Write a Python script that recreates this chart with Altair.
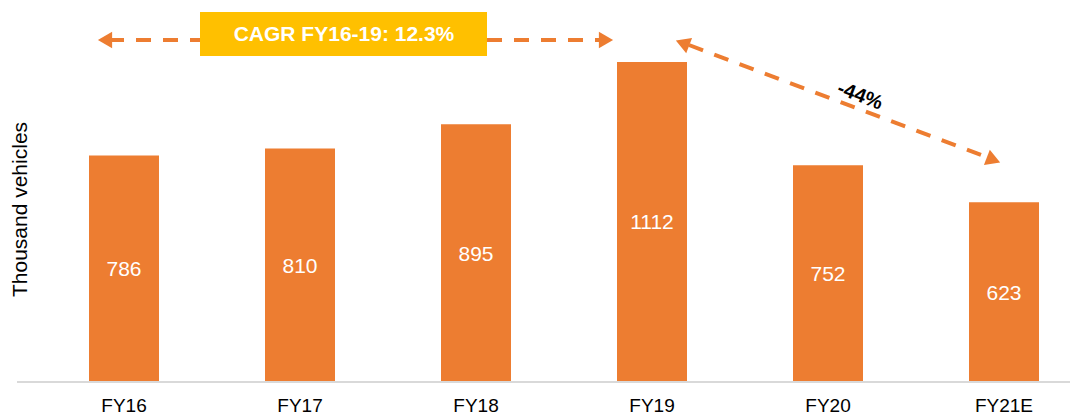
import altair as alt
import pandas as pd

# ---- data ----
categories = ["FY16", "FY17", "FY18", "FY19", "FY20", "FY21E"]
values = [786, 810, 895, 1112, 752, 623]
y_title = "Thousand vehicles"
cagr_text = ["CAGR FY16-19: 12.3%"]
decline_text = ["-44%"]

df = pd.DataFrame({"year": categories, "value": values})

W, H = 1053, 373
ORANGE = "#ED7D31"
YELLOW = "#FFC000"
FONT = "Liberation Sans"

x = alt.X(
    "year:N", sort=categories, title=None,
    scale=alt.Scale(range=[72, 1022], paddingInner=0.6023, paddingOuter=0),
    axis=alt.Axis(domain=False, ticks=False, labelAngle=0, labelFont=FONT,
                  labelFontSize=19, labelColor="#000000", labelPadding=15),
)
y = alt.Y(
    "value:Q",
    scale=alt.Scale(domain=[0, 1300], nice=False, zero=True),
    axis=alt.Axis(grid=False, labels=False, ticks=False, domain=False,
                  title=y_title, titleX=3, titleY=201, titleAngle=270,
                  titleAlign="center", titleBaseline="middle", titleFont=FONT,
                  titleFontSize=21, titleFontWeight="normal", titleColor="#000000"),
)

base = alt.Chart(df)
bars = base.mark_bar(color=ORANGE).encode(x=x, y=y)
labels = base.transform_calculate(mid="datum.value / 2").mark_text(
    color="white", font=FONT, fontSize=21, baseline="middle", dy=2
).encode(x=alt.X("year:N", sort=categories), y=alt.Y("mid:Q"), text="value:Q")

one = pd.DataFrame({"t": cagr_text})
two = pd.DataFrame({"t": decline_text})

baseline = alt.Chart(one).mark_rule(color="#D9D9D9", strokeWidth=2).encode(
    x=alt.value(0), x2=alt.value(W), y=alt.value(H + 1), y2=alt.value(H + 1))

dash = dict(color=ORANGE, strokeWidth=4, strokeDash=[15, 12])
arrow1 = alt.Chart(one).mark_rule(**dash).encode(
    x=alt.value(92), x2=alt.value(585), y=alt.value(32), y2=alt.value(32))
head1l = alt.Chart(one).mark_point(shape="triangle-left", filled=True, size=270,
                                   color=ORANGE, opacity=1).encode(
    x=alt.value(88), y=alt.value(32))
head1r = alt.Chart(one).mark_point(shape="triangle-right", filled=True, size=270,
                                   color=ORANGE, opacity=1).encode(
    x=alt.value(589), y=alt.value(32))
box = alt.Chart(one).mark_rect(color=YELLOW).encode(
    x=alt.value(183), x2=alt.value(470), y=alt.value(4), y2=alt.value(48))
box_text = alt.Chart(one).mark_text(color="white", font=FONT, fontSize=21,
                                    fontWeight="bold", baseline="middle").encode(
    x=alt.value(327), y=alt.value(27), text="t:N")

arrow2 = alt.Chart(two).mark_rule(**dash).encode(
    x=alt.value(672), x2=alt.value(972), y=alt.value(37), y2=alt.value(150))
head2l = alt.Chart(two).mark_point(shape="triangle-left", filled=True, size=270,
                                   color=ORANGE, opacity=1, angle=21).encode(
    x=alt.value(665.5), y=alt.value(35))
head2r = alt.Chart(two).mark_point(shape="triangle-right", filled=True, size=270,
                                   color=ORANGE, opacity=1, angle=21).encode(
    x=alt.value(976.5), y=alt.value(152))
pct = alt.Chart(two).mark_text(color="black", font=FONT, fontSize=20,
                               fontWeight="bold", angle=21, baseline="middle").encode(
    x=alt.value(843), y=alt.value(88), text="t:N")

chart = alt.layer(
    bars, labels, baseline, arrow1, head1l, head1r, box, box_text,
    arrow2, head2l, head2r, pct
).properties(
    width=W, height=H,
    autosize=alt.AutoSizeParams(type="none"),
    padding={"left": 9, "top": 0, "right": 0, "bottom": 36},
).configure_view(stroke=None)

chart.save("out.html", embed_options={"renderer": "svg", "actions": False})
